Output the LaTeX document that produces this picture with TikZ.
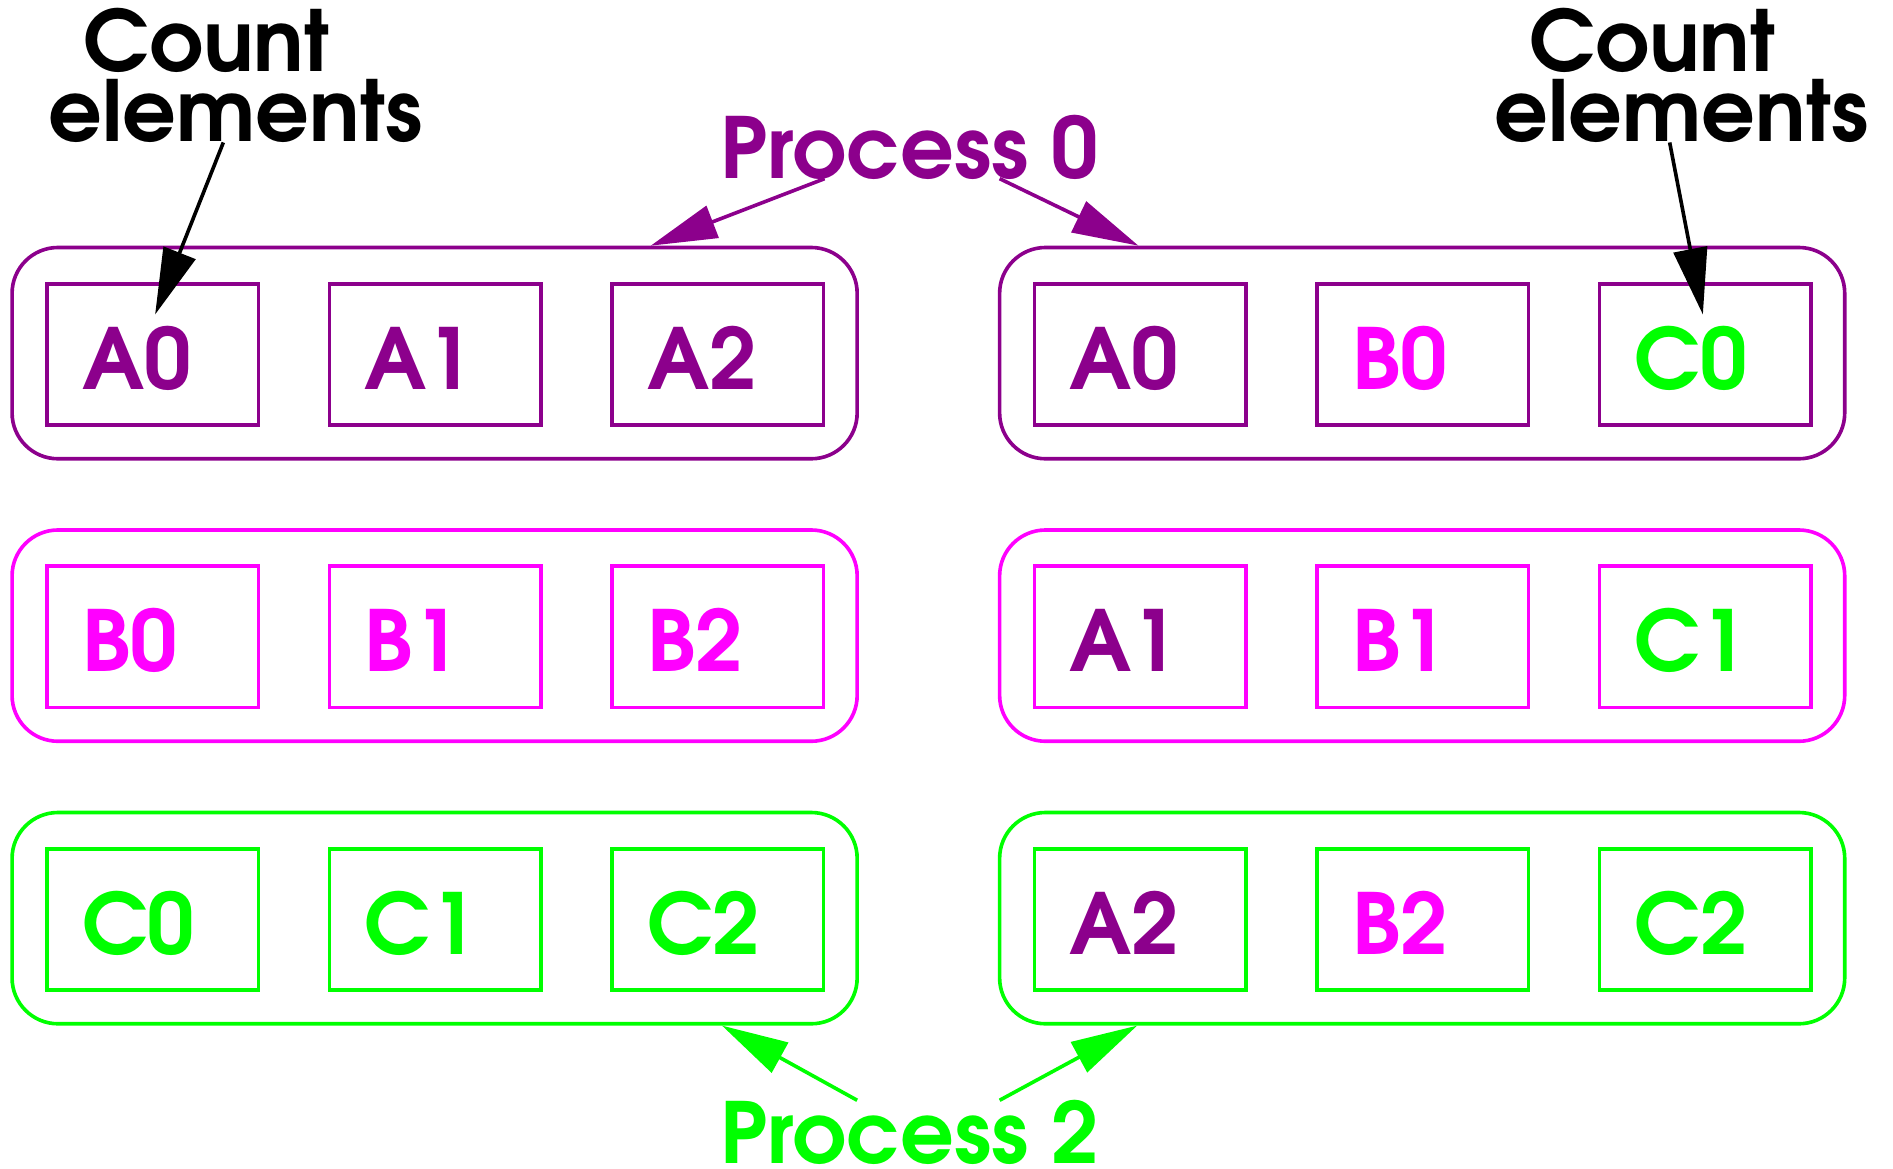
\documentclass[tikz,border=0pt]{standalone}
\usepackage{fontspec}
\newfontfamily\lblfont{TeX Gyre Adventor}
\usetikzlibrary{arrows.meta,calc}
\definecolor{pur}{RGB}{140,0,140}
\definecolor{mag}{RGB}{255,0,255}
\definecolor{grn}{RGB}{0,255,0}
\begin{document}
\begin{tikzpicture}[x=1bp,y=-1bp,
  outerbox/.style={draw, line width=3bp, rounded corners=38bp, minimum width=700bp, minimum height=175bp, inner sep=0pt},
  cell/.style={draw, line width=3bp, minimum height=117bp, inner ysep=0pt, inner xsep=29bp, text width=117bp, align=left,
    text height=58bp, text depth=0pt, font=\lblfont\bfseries\fontsize{70}{70}\selectfont},
  big/.style={font=\lblfont\bfseries\fontsize{70}{58}\selectfont, inner sep=0pt},
  arr/.style={line width=3bp, -{Triangle[length=55bp,width=28bp]}}]
\useasboundingbox (0,0) rectangle (1568,968);
% outer boxes
\node[outerbox, pur] (L1) at (360,292.5) {};
\node[outerbox, mag] (L2) at (360,526.5) {};
\node[outerbox, grn] (L3) at (360,760.5) {};
\node[outerbox, pur] (R1) at (1178,292.5) {};
\node[outerbox, mag] (R2) at (1178,526.5) {};
\node[outerbox, grn] (R3) at (1178,760.5) {};
% left cells
\node[cell, draw=pur, text=pur] (c11) at (126.5,293.5) {A0};
\node[cell, draw=pur, text=pur] (c12) at (360.5,293.5) {A1};
\node[cell, draw=pur, text=pur] (c13) at (594.5,293.5) {A2};
\node[cell, draw=mag, text=mag] (c21) at (126.5,527.5) {B0};
\node[cell, draw=mag, text=mag] (c22) at (360.5,527.5) {B1};
\node[cell, draw=mag, text=mag] (c23) at (594.5,527.5) {B2};
\node[cell, draw=grn, text=grn] (c31) at (126.5,761.5) {C0};
\node[cell, draw=grn, text=grn] (c32) at (360.5,761.5) {C1};
\node[cell, draw=grn, text=grn] (c33) at (594.5,761.5) {C2};
% right cells
\node[cell, draw=pur, text=pur] (d11) at (944.5,293.5) {A0};
\node[cell, draw=pur, text=mag] (d12) at (1178.5,293.5) {B0};
\node[cell, draw=pur, text=grn] (d13) at (1412.5,293.5) {C0};
\node[cell, draw=mag, text=pur] (d21) at (944.5,527.5) {A1};
\node[cell, draw=mag, text=mag] (d22) at (1178.5,527.5) {B1};
\node[cell, draw=mag, text=grn] (d23) at (1412.5,527.5) {C1};
\node[cell, draw=grn, text=pur] (d31) at (944.5,761.5) {A2};
\node[cell, draw=grn, text=mag] (d32) at (1178.5,761.5) {B2};
\node[cell, draw=grn, text=grn] (d33) at (1412.5,761.5) {C2};
% labels
\node[big, align=center, anchor=south] (cl) at (195,118) {Count\hspace*{48bp}\\elements};
\node[big, align=center, anchor=south] (cr) at (1393,118) {Count\hspace*{48bp}\\elements};
\node[big, text=pur, anchor=base] (p0) at (753.5,148) {Process 0};
\node[big, text=grn, anchor=base] (p2) at (753.5,964) {Process 2};
% arrows
\draw[arr] ([xshift=-10bp]cl.south) -- ([shift={(91,27)}]c11.north west);
\draw[arr] ([xshift=-10bp]cr.south) -- ([shift={(87,27)}]d13.north west);
\draw[arr, pur] ([xshift=-70.5bp]p0.base) -- ([xshift=179bp]L1.north);
\draw[arr, pur] ([xshift=74.5bp]p0.base) -- ([xshift=-235bp]R1.north);
\draw[arr, grn] ([xshift=-43.5bp]p2.north) -- ([xshift=238bp]L3.south);
\draw[arr, grn] ([xshift=74.5bp]p2.north) -- ([xshift=-236bp]R3.south);
\end{tikzpicture}
\end{document}
